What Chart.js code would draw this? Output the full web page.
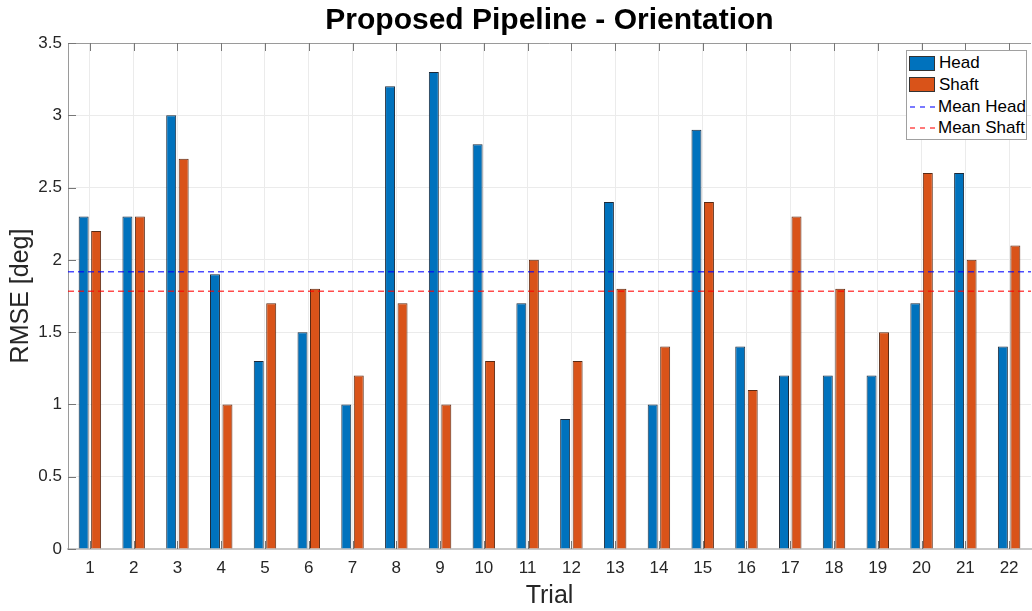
<!DOCTYPE html>
<html>
<head>
<meta charset="utf-8">
<script src="https://cdn.jsdelivr.net/npm/chart.js@4/dist/chart.umd.min.js"></script>
<style>
  body { margin: 0; background: #fff; }
  #wrap { position: relative; width: 1032px; height: 611px; }
  #legend {
    position: absolute; left: 906px; top: 50px; width: 119px; height: 88px;
    border: 1px solid #a0a0a0; background: #fff;
    font-family: "Liberation Sans", Arial, sans-serif; font-size: 17px; color: #000;
  }
  .row { position: absolute; left: 2px; height: 22px; display: flex; align-items: center; }
  .sw { width: 24px; height: 13px; border: 1px solid #333; margin-right: 4px; }
  .row svg { margin-right: 3px; }
</style>
</head>
<body>
<div id="wrap">
  <canvas id="rmseChart" width="1032" height="611"></canvas>
  <div id="legend"></div>
</div>
<script>
const trials = ['1','2','3','4','5','6','7','8','9','10','11','12','13','14','15','16','17','18','19','20','21','22'];
const headRmse  = [2.3, 2.3, 3.0, 1.9, 1.3, 1.5, 1.0, 3.2, 3.3, 2.8, 1.7, 0.9, 2.4, 1.0, 2.9, 1.4, 1.2, 1.2, 1.2, 1.7, 2.6, 1.4];
const shaftRmse = [2.2, 2.3, 2.7, 1.0, 1.7, 1.8, 1.2, 1.7, 1.0, 1.3, 2.0, 1.3, 1.8, 1.4, 2.4, 1.1, 2.3, 1.8, 1.5, 2.6, 2.0, 2.1];
const meanHead = 1.918;
const meanShaft = 1.782;

const HEAD_COLOR = '#0072BD';
const SHAFT_COLOR = '#D95319';
const MEAN_HEAD_COLOR = 'rgba(0, 0, 255, 0.7)';
const MEAN_SHAFT_COLOR = 'rgba(255, 0, 0, 0.7)';
const FONT = '"Liberation Sans", Arial, sans-serif';

// dashed mean lines across the whole axes, placed with the y scale
const meanLines = {
    id: 'meanLines',
    afterDatasetsDraw(chart) {
        const { ctx, chartArea: a, scales } = chart;
        ctx.save();
        ctx.lineWidth = 1.5;
        ctx.setLineDash([6, 4]);
        [[meanHead, MEAN_HEAD_COLOR], [meanShaft, MEAN_SHAFT_COLOR]].forEach(([m, col]) => {
            const y = scales.y.getPixelForValue(m);
            ctx.strokeStyle = col;
            ctx.beginPath();
            ctx.moveTo(a.left, y);
            ctx.lineTo(a.right, y);
            ctx.stroke();
        });
        ctx.restore();
    }
};

// matlab style box + inward ticks
const axesBox = {
    id: 'axesBox',
    afterDraw(chart) {
        const { ctx, chartArea: a, scales } = chart;
        ctx.save();
        ctx.strokeStyle = '#9a9a9a';
        ctx.lineWidth = 1;
        ctx.beginPath();
        ctx.moveTo(a.left, a.top + 0.5);
        ctx.lineTo(a.right, a.top + 0.5);
        ctx.stroke();
        ctx.strokeStyle = '#777';
        ctx.beginPath();
        for (let i = 0; i < trials.length; i++) {
            const x = Math.round(scales.x.getPixelForTick(i)) + 0.5;
            ctx.moveTo(x, a.top); ctx.lineTo(x, a.top + 8);
            ctx.moveTo(x, a.bottom); ctx.lineTo(x, a.bottom - 8);
        }
        scales.y.ticks.forEach(t => {
            const y = Math.round(scales.y.getPixelForValue(t.value)) + 0.5;
            ctx.moveTo(a.left, y); ctx.lineTo(a.left + 8, y);
        });
        ctx.stroke();
        ctx.restore();
    }
};

const ctx = document.getElementById('rmseChart').getContext('2d');
new Chart(ctx, {
    type: 'bar',
    data: {
        labels: trials,
        datasets: [
            {
                label: 'Head',
                data: headRmse,
                backgroundColor: HEAD_COLOR,
                borderColor: '#1c2a3a',
                borderWidth: 1
            },
            {
                label: 'Shaft',
                data: shaftRmse,
                backgroundColor: SHAFT_COLOR,
                borderColor: '#5a2a14',
                borderWidth: 1
            }
        ]
    },
    options: {
        responsive: false,
        animation: false,
        devicePixelRatio: 1,
        categoryPercentage: 0.57,
        barPercentage: 0.8,
        layout: { padding: { right: 1 } },
        plugins: {
            legend: { display: false },
            tooltip: { enabled: false },
            title: {
                display: true,
                fullSize: false,
                text: 'Proposed Pipeline - Orientation',
                color: '#000',
                font: { family: FONT, size: 30, weight: 'bold' },
                padding: { top: 3, bottom: 4 }
            }
        },
        scales: {
            x: {
                grid: { offset: false, color: '#ebebeb', drawTicks: false },
                border: { color: '#c8c8c8', width: 2 },
                ticks: { color: '#262626', font: { family: FONT, size: 17 }, padding: 9, maxRotation: 0 },
                title: { display: true, text: 'Trial', color: '#262626', font: { family: FONT, size: 25 }, padding: 0 },
                afterFit(scale) { scale.height = 62; }
            },
            y: {
                min: 0,
                max: 3.5,
                ticks: {
                    stepSize: 0.5,
                    color: '#262626',
                    font: { family: FONT, size: 17 },
                    padding: 6,
                    callback: v => String(v)
                },
                grid: { color: '#ebebeb', drawTicks: false },
                border: { color: '#9a9a9a', width: 1 },
                title: { display: true, text: 'RMSE [deg]', color: '#262626', font: { family: FONT, size: 25 }, padding: { top: 6, bottom: 0 } },
                afterFit(scale) { scale.width = 68; }
            }
        }
    },
    plugins: [meanLines, axesBox]
});

// legend box inside the axes (top right)
const legendItems = [
    { text: 'Head', color: HEAD_COLOR, kind: 'box' },
    { text: 'Shaft', color: SHAFT_COLOR, kind: 'box' },
    { text: 'Mean Head', color: MEAN_HEAD_COLOR, kind: 'dash' },
    { text: 'Mean Shaft', color: MEAN_SHAFT_COLOR, kind: 'dash' }
];
const legendEl = document.getElementById('legend');
legendItems.forEach((item, i) => {
    const row = document.createElement('div');
    row.className = 'row';
    row.style.top = (1 + i * 21.8) + 'px';
    if (item.kind === 'box') {
        const sw = document.createElement('span');
        sw.className = 'sw';
        sw.style.background = item.color;
        row.appendChild(sw);
    } else {
        row.insertAdjacentHTML('beforeend',
            '<svg width="26" height="4"><line x1="1" y1="2" x2="26" y2="2" stroke="' + item.color +
            '" stroke-width="1.5" stroke-dasharray="5,5"/></svg>');
    }
    row.appendChild(document.createTextNode(item.text));
    legendEl.appendChild(row);
});
</script>
</body>
</html>
